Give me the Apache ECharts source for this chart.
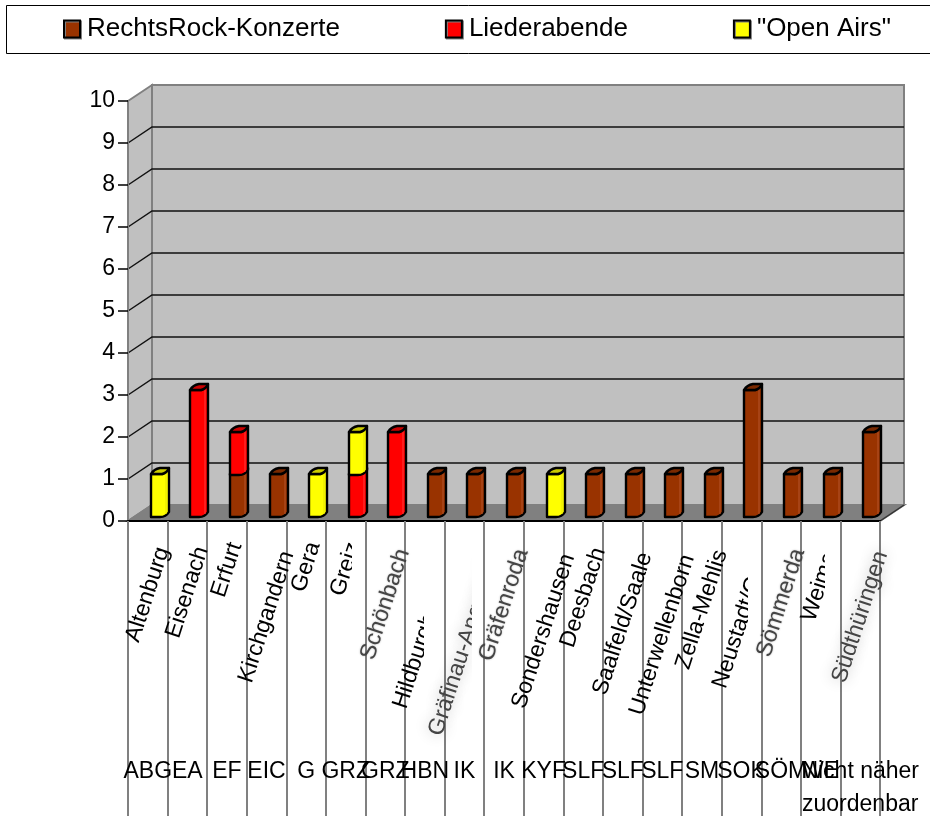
<!DOCTYPE html>
<html>
<head>
<meta charset="utf-8">
<style>
  html, body { margin: 0; padding: 0; background: #fff; }
  #chart { width: 930px; height: 816px; }
</style>
<script src="https://cdn.jsdelivr.net/npm/echarts@6/dist/echarts.min.js"></script>
</head>
<body>
<div id="chart"></div>
<script>
const codes = ["ABG", "EA", "EF", "EIC", "G", "GRZ", "GRZ", "HBN", "IK", "IK", "KYF", "SLF", "SLF", "SLF", "SM", "SOK", "SÖM", "WE", "Nicht näher\nzuordenbar"];
const places = ["Altenburg", "Eisenach", "Erfurt", "Kirchgandern", "Gera", "Greiz", "Schönbach", "Hildburghausen", "Gräfinau-Angstedt", "Gräfenroda", "Sondershausen", "Deesbach", "Saalfeld/Saale", "Unterwellenborn", "Zella-Mehlis", "Neustadt/Orla", "Sömmerda", "Weimar", "Südthüringen"];
const rockValues = [0, 0, 1, 1, 0, 0, 0, 1, 1, 1, 0, 1, 1, 1, 1, 3, 1, 1, 2];
const liederValues = [0, 3, 1, 0, 0, 1, 2, 0, 0, 0, 0, 0, 0, 0, 0, 0, 0, 0, 0];
const openAirValues = [1, 0, 0, 0, 1, 1, 0, 0, 0, 0, 1, 0, 0, 0, 0, 0, 0, 0, 0];
const yTicks = [1, 2, 3, 4, 5, 6, 7, 8, 9];

// the picture is a badly scaled bitmap: some labels are cut off, some smeared
const cutOffAt = { 5: 352, 7: 424, 8: 472, 15: 748, 17: 825 };
const smeared = { 6: 2, 8: 14, 9: 2, 16: 2, 18: 14 };

const FONT = '"Liberation Sans", Arial, sans-serif';
const DEPTH_X = 24, DEPTH_Y = 16;
const LABEL_SIZE = 23, LABEL_ANGLE = 72 * Math.PI / 180;

const measure = document.createElement("canvas").getContext("2d");
measure.font = LABEL_SIZE + "px " + FONT;

function renderWalls(params, api) {
  const g = params.coordSys;
  const x0 = g.x, x1 = g.x + g.width, yTop = g.y, yBot = g.y + g.height;
  const poly = (points, fill) => ({ type: "polygon", shape: { points }, style: { fill, stroke: "#808080", lineWidth: 2 } });
  return {
    type: "group",
    children: [
      poly([[x0 + DEPTH_X, yTop - DEPTH_Y], [x1 + DEPTH_X, yTop - DEPTH_Y], [x1 + DEPTH_X, yBot - DEPTH_Y], [x0 + DEPTH_X, yBot - DEPTH_Y]], "#c0c0c0"),
      poly([[x0, yTop], [x0 + DEPTH_X, yTop - DEPTH_Y], [x0 + DEPTH_X, yBot - DEPTH_Y], [x0, yBot]], "#c0c0c0"),
      poly([[x0, yBot], [x0 + DEPTH_X, yBot - DEPTH_Y], [x1 + DEPTH_X, yBot - DEPTH_Y], [x1, yBot]], "#808080"),
      { type: "line", shape: { x1: x1, y1: yBot, x2: x1 + DEPTH_X, y2: yBot - DEPTH_Y }, style: { stroke: "#333", lineWidth: 1.5 } }
    ]
  };
}

function renderGridLine(params, api) {
  const g = params.coordSys;
  const y = api.coord([0, api.value(0)])[1];
  return {
    type: "polyline",
    shape: { points: [[g.x, y], [g.x + DEPTH_X, y - DEPTH_Y], [g.x + g.width + DEPTH_X, y - DEPTH_Y]] },
    style: { fill: "none", stroke: "#111", lineWidth: 1.5 }
  };
}

function barRenderer(color, topColor, shineColor, bases) {
  return function (params, api) {
    const i = api.value(0), v = api.value(1);
    if (!v) return null;
    const base = bases(i);
    const cx = api.coord([i, 0])[0];
    const x = Math.round(cx + 3);
    const yb = api.coord([i, base])[1] - 4;
    const yt = api.coord([i, base + v])[1] - 5;
    const outline = { stroke: "#000", lineWidth: 2.4, lineJoin: "round" };
    return {
      type: "group",
      children: [
        {
          type: "path",
          shape: {
            pathData: `M${x} ${yt}L${x} ${yb}L${x + 9} ${yb}Q${x + 15} ${yb} ${x + 18} ${yb - 5}L${x + 18} ${yt - 6}L${x + 12} ${yt}Z`,
            x: x, y: yt - 6, width: 18, height: yb - yt + 6
          },
          style: Object.assign({ fill: color }, outline)
        },
        { type: "line", shape: { x1: x + 15, y1: yt - 1, x2: x + 15, y2: yb - 3 }, style: { stroke: shineColor, lineWidth: 1 } },
        {
          type: "path",
          shape: {
            pathData: `M${x} ${yt}Q${x + 3} ${yt - 5} ${x + 9} ${yt - 6}L${x + 18} ${yt - 6}Q${x + 16} ${yt - 1} ${x + 11} ${yt}Z`,
            x: x, y: yt - 6, width: 18, height: 6
          },
          style: Object.assign({ fill: topColor }, outline)
        }
      ]
    };
  };
}

function renderPlace(params, api) {
  const i = api.value(0);
  const text = places[i];
  const cx = api.coord([i, 0])[0];
  const rise = measure.measureText(text).width * Math.sin(LABEL_ANGLE);
  const blur = smeared[i] || 0;
  const label = {
    type: "text",
    x: cx,
    y: 537 + 0.615 * rise, // short names sit a little higher in the picture
    rotation: LABEL_ANGLE,
    style: {
      text, fontFamily: FONT, fontSize: LABEL_SIZE,
      align: "center", verticalAlign: "middle",
      fill: blur ? "#444" : "#000",
      textShadowColor: blur ? "rgba(0,0,0,0.3)" : "transparent",
      textShadowBlur: blur
    }
  };
  if (cutOffAt[i] === undefined) return label;
  return {
    type: "group",
    children: [label],
    clipPath: { type: "rect", shape: { x: 0, y: 0, width: cutOffAt[i], height: 816 } }
  };
}

function barSeries(name, values, color, topColor, shineColor, bases) {
  return {
    name, type: "custom", z: 3, silent: true,
    itemStyle: { color },
    renderItem: barRenderer(color, topColor, shineColor, bases),
    encode: { x: 0, y: 1 },
    data: values.map((v, i) => [i, v])
  };
}

const chart = echarts.init(document.getElementById("chart"));
chart.setOption({
  animation: false,
  backgroundColor: "#fff",
  textStyle: { fontFamily: FONT, color: "#000" },
  graphic: [{
    type: "rect", z: 0,
    shape: { x: 6.5, y: 5.5, width: 940, height: 48 },
    style: { fill: "#fff", stroke: "#000", lineWidth: 1 }
  }],
  legend: {
    left: 63, top: 16, padding: 0,
    itemWidth: 16, itemHeight: 17, itemGap: 105,
    icon: "rect",
    data: ["RechtsRock-Konzerte", "Liederabende", "\"Open Airs\""],
    textStyle: { fontFamily: FONT, fontSize: 26, color: "#000", padding: [0, 0, 0, 2] },
    itemStyle: { borderColor: "#000", borderWidth: 2, shadowColor: "#808080", shadowOffsetX: 1, shadowOffsetY: 1 }
  },
  grid: { left: 128, top: 101, width: 752, height: 420, containLabel: false, outerBoundsMode: "none" },
  xAxis: {
    type: "category", data: codes, z: 2,
    axisLine: { lineStyle: { color: "#000", width: 2 } },
    axisTick: { show: true, interval: 0, length: 300, lineStyle: { color: "#808080", width: 2 } },
    axisLabel: { interval: 0, margin: 234, fontSize: 23, lineHeight: 33, color: "#000", hideOverlap: false, verticalAlign: "top", fontFamily: FONT }
  },
  yAxis: {
    type: "value", min: 0, max: 10, interval: 1, z: 2,
    splitLine: { show: false },
    axisLine: { show: true, lineStyle: { color: "#808080", width: 2 } },
    axisTick: { show: true, length: 10, lineStyle: { color: "#000", width: 1.5 } },
    axisLabel: { margin: 13, fontSize: 23, color: "#000", fontFamily: FONT }
  },
  series: [
    { type: "custom", z: 1, silent: true, renderItem: renderWalls, data: [[0]] },
    { type: "custom", z: 1, silent: true, renderItem: renderGridLine, encode: { y: 0 }, data: yTicks.map(v => [v]) },
    barSeries("RechtsRock-Konzerte", rockValues, "#993300", "#7a2900", "#b5552a", () => 0),
    barSeries("Liederabende", liederValues, "#ff0000", "#cc0000", "#ff3b3b", i => rockValues[i]),
    barSeries("\"Open Airs\"", openAirValues, "#ffff00", "#cccc00", "#e6e600", i => rockValues[i] + liederValues[i]),
    { type: "custom", z: 4, silent: true, renderItem: renderPlace, encode: { x: 0 }, data: places.map((p, i) => [i]) }
  ]
});
</script>
</body>
</html>
